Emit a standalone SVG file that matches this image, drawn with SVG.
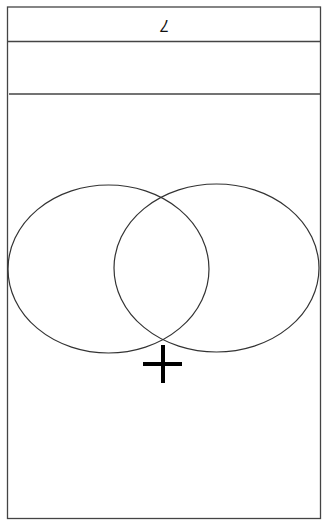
<svg xmlns="http://www.w3.org/2000/svg" width="322" height="520" viewBox="0 0 322 520">
<style>
.frame{fill:none;stroke:#444;stroke-width:1.3}
.ell{fill:none;stroke:#333;stroke-width:1.2}
.lbl{font-family:"Liberation Sans",Arial,sans-serif;font-size:16px;fill:#111;font-style:italic}
</style>
<rect width="322" height="520" fill="#fff"/>
<g id="frame">
<rect class="frame" x="7.5" y="7" width="313" height="511.5"/>
<line class="frame" x1="7.5" y1="41.5" x2="320.5" y2="41.5"/>
<line class="frame" x1="9" y1="94" x2="320.5" y2="94"/>
</g>
<g id="label">
<text class="lbl" x="165" y="25" text-anchor="middle" dominant-baseline="central" transform="rotate(180 165 25)">7</text>
</g>
<g id="left-ellipse">
<ellipse class="ell" cx="108.5" cy="269" rx="100.5" ry="84"/>
</g>
<g id="right-ellipse">
<ellipse class="ell" cx="216.5" cy="268" rx="102.5" ry="84"/>
</g>
<g id="plus">
<line x1="143" y1="364" x2="182" y2="364" stroke="#000" stroke-width="4"/>
<line x1="163" y1="345" x2="163" y2="383" stroke="#000" stroke-width="4"/>
</g>
<g id="connectors"></g>
</svg>
